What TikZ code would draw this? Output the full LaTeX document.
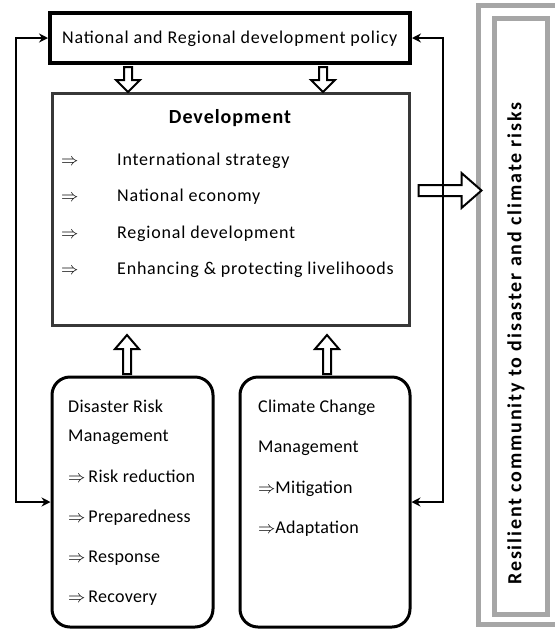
\documentclass[tikz,border=0pt]{standalone}
\usepackage{fontspec}
\setmainfont{Carlito}
\newfontfamily\widefont[LetterSpace=4.4]{Carlito}
\newfontfamily\midfont[LetterSpace=1.5]{Carlito}
\newfontfamily\titlefont[LetterSpace=5]{Carlito}
\newfontfamily\sidefont[LetterSpace=9.2]{Carlito}
\usetikzlibrary{arrows.meta,calc}
\begin{document}
\begin{tikzpicture}[x=1pt,y=-1pt,
  body/.style={font=\fontsize{18}{20}\selectfont\widefont},
  txt/.style={anchor=base west, inner sep=0pt, body},
  mtxt/.style={txt, font=\fontsize{18}{20}\selectfont\midfont},
  boxnode/.style={draw, inner sep=0pt, fill=white},
  policybox/.style={boxnode, line width=4pt, minimum width=360pt, minimum height=50pt},
  devbox/.style={boxnode, draw=black!78, line width=3pt, minimum width=357pt, minimum height=232pt},
  mgmtbox/.style={boxnode, line width=3pt, rounded corners=18pt, minimum height=250pt},
  grayframe/.style={draw=black!35, line width=5pt},
  conn/.style={line width=2pt, {Stealth[length=9pt,width=9pt]}-{Stealth[length=9pt,width=9pt]}},
  hollow/.style={draw, line width=2pt, fill=white, line join=miter},
]
\useasboundingbox (0,0) rectangle (555,633);

% outcome frame on the right
\draw[grayframe] (478,5.5) rectangle (562,624);
\draw[grayframe] (494.5,18) rectangle (547.5,614.5);
\node[rotate=90, inner sep=0pt, font=\fontsize{20}{22}\selectfont\sidefont\bfseries] (resilient) at (516,343.5)
  {Resilient community to disaster and climate risks};

% main boxes
\node[policybox] (policy) at (230,38) {};
\node[devbox] (dev) at (230.5,209) {};
\node[mgmtbox, minimum width=161pt] (drm) at (132.5,502) {};
\node[mgmtbox, minimum width=170pt] (ccm) at (325,502) {};

% policy text
\node[txt] (ptext) at (62,43) {National and Regional development policy};

% development text
\node[anchor=base, inner sep=0pt, font=\fontsize{20}{22}\selectfont\titlefont\bfseries] (dtitle) at (230,123) {Development};
\foreach \t/\y [count=\i] in {International strategy/165, National economy/201.7, Regional development/238, Enhancing \& protecting livelihoods/274}{
  \node[txt] (da\i) at (61,\y) {$\Rightarrow$};
  \node[txt] (dt\i) at (117,\y) {\t};
}

% disaster risk management text
\node[mtxt] (drm1) at (68,412) {Disaster Risk};
\node[mtxt] (drm2) at (68,441) {Management};
\foreach \t/\y [count=\i] in {Risk reduction/482, Preparedness/522, Response/562, Recovery/602}{
  \node[mtxt] (drmi\i) at (68,\y) {$\Rightarrow$\,\t};
}

% climate change management text
\node[mtxt] (ccm1) at (258,412) {Climate Change};
\node[mtxt] (ccm2) at (258,452) {Management};
\node[mtxt] (ccmi1) at (258,493) {$\Rightarrow$Mitigation};
\node[mtxt] (ccmi2) at (258,533) {$\Rightarrow$Adaptation};

% hollow block arrows: policy -> development
\foreach \cx in {128,323}{
  \draw[hollow] ($(policy.south)+(\cx-230,2)$) -- ++(-4,0) -- ++(0,13) -- ++(-8,0)
    -- ++(12,12) -- ++(12,-12) -- ++(-8,0) -- ++(0,-13) -- cycle;
}
% management -> development
\draw[hollow] ($(drm.north)+(-9.5,-1.5)$) coordinate (u1)
  -- ++(0,-25) -- ++(-8,0) -- ++(12,-14) -- ++(12,14) -- ++(-8,0) -- ++(0,25) -- cycle;
\draw[hollow] ($(ccm.north)+(-2,-1.5)$) coordinate (u2)
  -- ++(0,-25) -- ++(-8,0) -- ++(12,-14) -- ++(12,14) -- ++(-8,0) -- ++(0,25) -- cycle;

% development -> outcome
\draw[hollow] ($(dev.east)+(8,-24)$) coordinate (r0)
  -- ++(43,0) -- ++(0,-12) -- ++(20,17.5) -- ++(-20,17.5) -- ++(0,-12) -- ++(-43,0) -- cycle;

% feedback connectors
\coordinate (lt) at (16,38);
\coordinate (lb) at (16,502);
\coordinate (rt) at (443,38);
\coordinate (rb) at (443,502);
\draw[conn] (policy.west) -- (lt) -- (lb) -- (drm.west);
\draw[conn] (policy.east) -- (rt) -- (rb) -- (ccm.east);
\end{tikzpicture}
\end{document}
